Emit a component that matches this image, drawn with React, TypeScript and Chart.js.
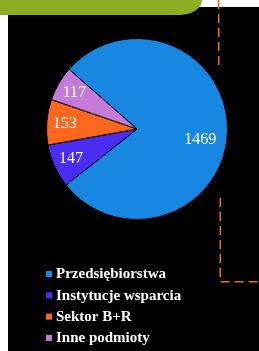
import React, { useEffect, useRef } from "react";
import { Chart, registerables } from "chart.js";

Chart.register(...registerables);

const categories = ["Przedsiębiorstwa", "Instytucje wsparcia", "Sektor B+R", "Inne podmioty"];
const values = [1469, 147, 153, 117];
const colors = ["#1787E2", "#4A2CF2", "#FF661E", "#C47AD6"];
const labelRadius = [0.71, 0.8, 0.8, 0.8];
const labelAngleShift = [8.5, 0, 0, 0];

const W = 259;
const H = 351;

const backgroundPlugin = {
  id: "bgDecor",
  beforeDraw(chart: any) {
    const ctx = chart.ctx;
    ctx.save();
    ctx.fillStyle = "#ffffff";
    ctx.fillRect(0, 0, W, H);
    ctx.fillStyle = "#000000";
    ctx.fillRect(8, 7, W - 8, H - 7);
    // green tab
    ctx.fillStyle = "#8DAE22";
    ctx.beginPath();
    ctx.moveTo(0, 0);
    ctx.lineTo(202, 0);
    ctx.ellipse(180, 0, 22, 15, 0, 0, Math.PI / 2);
    ctx.lineTo(0, 15);
    ctx.closePath();
    ctx.fill();
    // orange dashed lines
    ctx.strokeStyle = "#E8740F";
    ctx.lineWidth = 1.6;
    ctx.setLineDash([9, 5]);
    ctx.beginPath();
    ctx.moveTo(218.7, 0);
    ctx.lineTo(218.7, 67);
    ctx.stroke();
    ctx.beginPath();
    ctx.moveTo(220.3, 198);
    ctx.lineTo(220.3, 281.7);
    ctx.lineTo(W, 281.7);
    ctx.stroke();
    ctx.restore();
  },
};

const labelsPlugin = {
  id: "sliceLabels",
  afterDatasetsDraw(chart: any) {
    const ctx = chart.ctx;
    const meta = chart.getDatasetMeta(0);
    ctx.save();
    ctx.fillStyle = "#ffffff";
    ctx.font = "16px 'Liberation Serif', serif";
    ctx.textAlign = "center";
    ctx.textBaseline = "middle";
    meta.data.forEach((arc: any, i: number) => {
      const p = arc.getProps(["x", "y", "startAngle", "endAngle", "outerRadius"], true);
      const mid = (p.startAngle + p.endAngle) / 2 + (labelAngleShift[i] * Math.PI) / 180;
      const r = p.outerRadius * labelRadius[i];
      ctx.fillText(String(values[i]), p.x + Math.cos(mid) * r, p.y + Math.sin(mid) * r);
    });
    ctx.restore();
  },
};

const legendPlugin = {
  id: "customLegend",
  afterDraw(chart: any) {
    const ctx = chart.ctx;
    ctx.save();
    ctx.font = "bold 15px 'Liberation Serif', serif";
    ctx.textBaseline = "middle";
    ctx.textAlign = "left";
    categories.forEach((c, i) => {
      const y = 274 + i * 21.3;
      ctx.fillStyle = colors[i];
      ctx.fillRect(46, y - 3, 6, 6);
      ctx.fillStyle = "#ffffff";
      ctx.fillText(c, 56, y + 0.5);
    });
    ctx.restore();
  },
};

export default function App() {
  const ref = useRef<HTMLCanvasElement>(null);
  useEffect(() => {
    if (!ref.current) return;
    const chart = new Chart(ref.current, {
      type: "pie",
      data: {
        labels: categories,
        datasets: [
          {
            data: values,
            backgroundColor: colors,
            borderColor: "#000000",
            borderWidth: 1,
          },
        ],
      },
      options: {
        responsive: false,
        animation: false,
        rotation: -48.7,
        layout: { padding: { left: 46, right: 31, top: 38, bottom: 131 } },
        plugins: {
          legend: { display: false },
          tooltip: { enabled: false },
        },
      },
      plugins: [backgroundPlugin, labelsPlugin, legendPlugin],
    });
    return () => chart.destroy();
  }, []);
  return (
    <div style={{ position: "fixed", left: 0, top: 0, width: W, height: H }}>
      <canvas ref={ref} width={W} height={H} style={{ display: "block" }} />
    </div>
  );
}
